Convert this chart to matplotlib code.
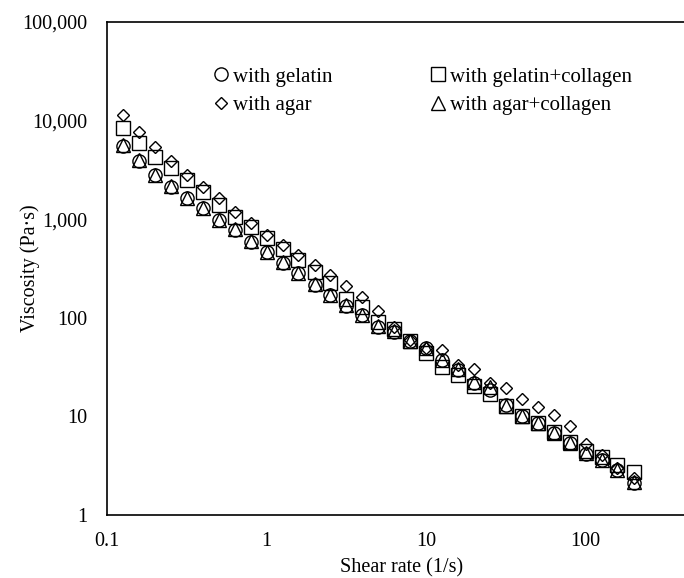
import matplotlib
matplotlib.use("Agg")
import matplotlib.pyplot as plt
from matplotlib.ticker import FixedLocator, FuncFormatter, NullLocator

plt.rcParams["font.family"] = ["Liberation Serif", "DejaVu Serif"]

# shear rate points (10 per decade, rheometer log sweep)
shear_rate = [0.126, 0.158, 0.2, 0.251, 0.316, 0.398, 0.501, 0.631, 0.794, 1.0,
              1.26, 1.58, 2.0, 2.51, 3.16, 3.98, 5.01, 6.31, 7.94, 10.0,
              12.6, 15.8, 20.0, 25.1, 31.6, 39.8, 50.1, 63.1, 79.4, 100.0,
              126.0, 158.0, 200.0]

gelatin = [5530, 3920, 2810, 2140, 1630, 1290, 980, 780, 590, 466,
           362, 282, 215, 170, 132, 107, 81, 72, 58, 49,
           37, 29.6, 22, 18.5, 12.9, 10.0, 8.5, 6.8, 5.4, 4.2,
           3.6, 2.85, 2.1]
gelatin_collagen = [8350, 5970, 4300, 3280, 2520, 1900, 1390, 1060, 840, 640,
                    495, 385, 293, 224, 155, 130, 91, 77, 58.5, 44,
                    32, 26.3, 20.4, 16.9, 12.8, 10.1, 8.6, 7.0, 5.5, 4.5,
                    3.9, 3.2, 2.75]
agar = [11400, 7720, 5430, 3890, 2810, 2140, 1630, 1190, 908, 690,
        547, 433, 343, 272, 208, 164, 116, 81, 60, 49,
        47, 33, 30.2, 22, 19.4, 15.0, 12.4, 10.3, 7.9, 5.25,
        4.05, 3.0, 2.35]
agar_collagen = [5600, 3950, 2830, 2150, 1650, 1300, 990, 790, 600, 470,
                 365, 285, 218, 172, 134, 108, 82, 73, 58.5, 49,
                 37.5, 30, 22.5, 19.9, 12.7, 10.0, 8.5, 6.8, 5.4, 4.3,
                 3.6, 2.86, 2.18]

fig = plt.figure(figsize=(6.84, 5.78), dpi=100)
ax = fig.add_axes([107/684, 63/578, 590/684, 493/578])

kw = dict(linestyle="none", markerfacecolor="none", markeredgecolor="black",
          markeredgewidth=1.0)
h1, = ax.plot(shear_rate, gelatin, marker="o", markersize=9.5, label="with gelatin", **kw)
h3, = ax.plot(shear_rate, gelatin_collagen, marker="s", markersize=9.5,
              label="with gelatin+collagen", **kw)
h2, = ax.plot(shear_rate, agar, marker="D", markersize=6, label="with agar", **kw)
h4, = ax.plot(shear_rate, agar_collagen, marker="^", markersize=9.5,
              label="with agar+collagen", **kw)

ax.set_xscale("log")
ax.set_yscale("log")
ax.set_xlim(0.1, 500)
ax.set_ylim(1, 100000)

ax.xaxis.set_major_locator(FixedLocator([0.1, 1, 10, 100]))
ax.xaxis.set_minor_locator(NullLocator())
ax.yaxis.set_major_locator(FixedLocator([1, 10, 100, 1000, 10000, 100000]))
ax.yaxis.set_minor_locator(NullLocator())
ax.xaxis.set_major_formatter(FuncFormatter(lambda v, p: f"{v:g}"))
ax.yaxis.set_major_formatter(FuncFormatter(lambda v, p: f"{v:,.0f}"))
ax.tick_params(axis="both", length=0, labelsize=14.5)
ax.tick_params(axis="x", pad=12)
ax.tick_params(axis="y", pad=14)
for s in ax.spines.values():
    s.set_linewidth(1.2)

ax.set_xlabel("Shear rate (1/s)", fontsize=14.5)
ax.xaxis.set_label_coords((402 - 107)/590, -43/493)
ax.set_ylabel("Viscosity (Pa\u00b7s)", fontsize=14.5)
ax.yaxis.set_label_coords(-67/590, 0.5)

ax.legend(handles=[h1, h2, h3, h4], ncol=2, frameon=False, fontsize=15,
          loc="upper left", bbox_to_anchor=(212/684, 1 - 67/578),
          bbox_transform=fig.transFigure, borderpad=0, borderaxespad=0,
          handlelength=0.85, handletextpad=0.15, labelspacing=0.42,
          columnspacing=4.65)

fig.savefig("out.png", dpi=100)
